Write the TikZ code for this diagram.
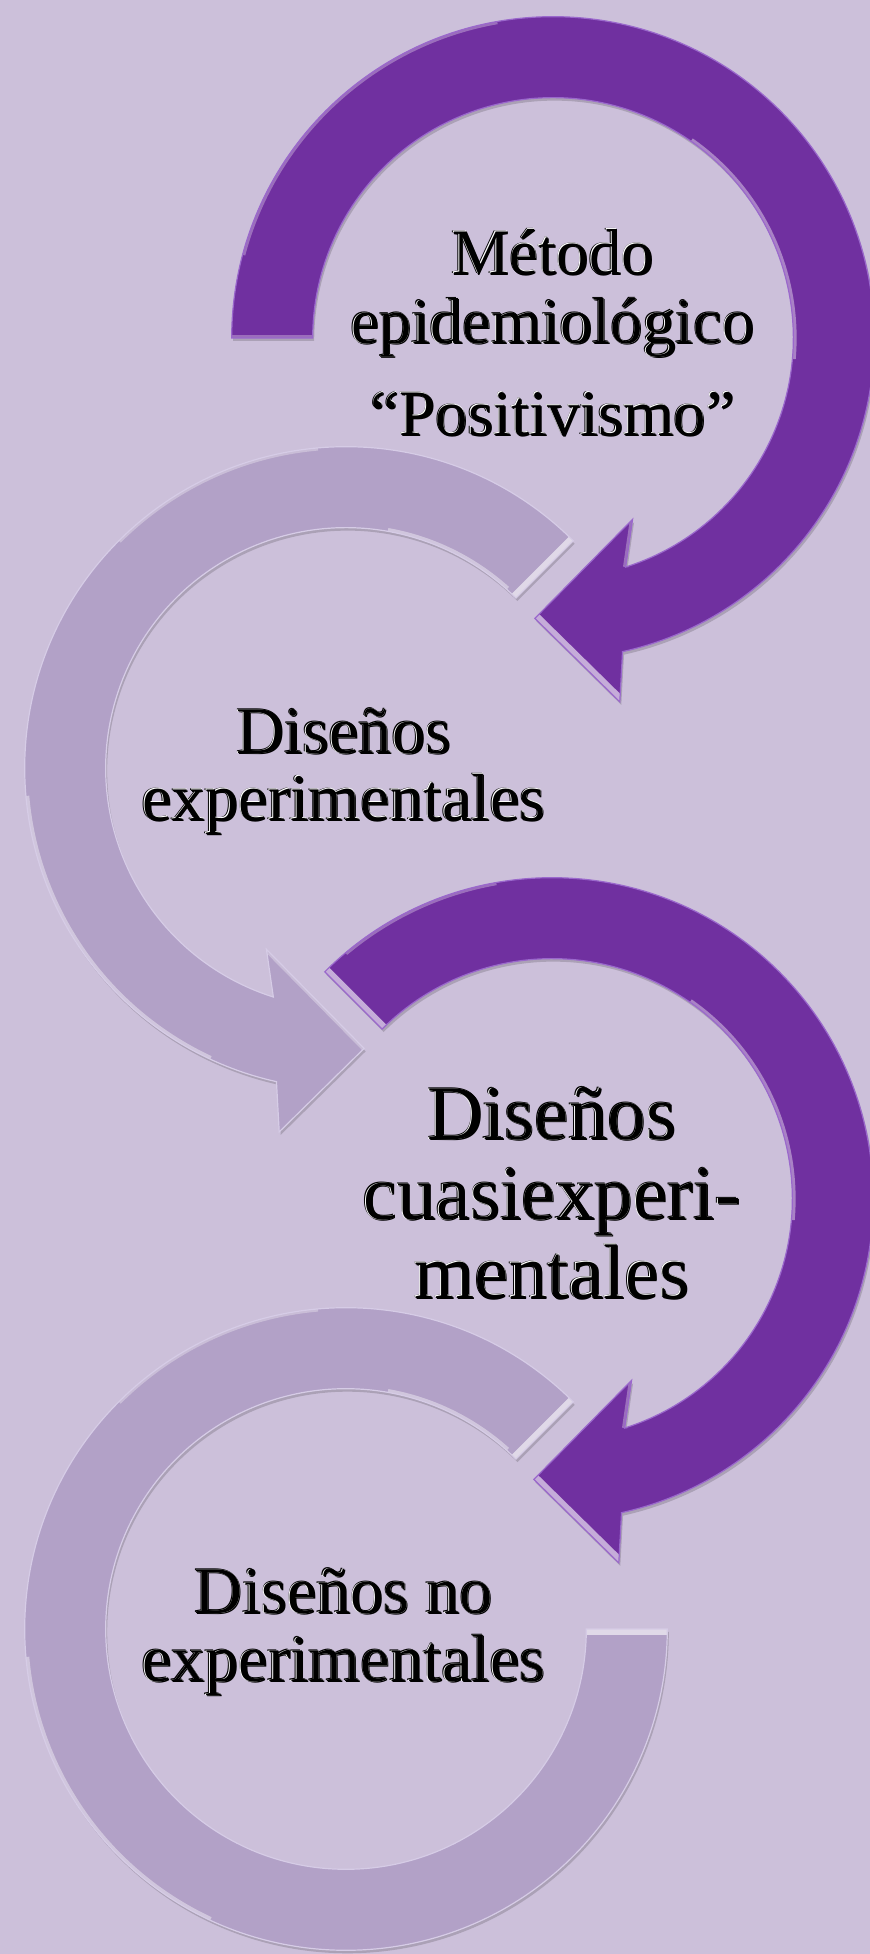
\documentclass[tikz,border=0pt]{standalone}
\usepackage{fontspec}
\setmainfont{Liberation Serif}
\definecolor{bgc}{HTML}{CCC0DA}
\definecolor{dpurple}{HTML}{7030A0}
\definecolor{lpurple}{HTML}{B2A1C7}
\definecolor{dedge}{HTML}{9A68CC}
\definecolor{ledge}{HTML}{D6CCE6}
\newcommand{\Rout}{321.3}
\newcommand{\Rin}{240.3}
\newcommand{\cwpath}[1]{(#1:\Rout) arc[start angle=#1,end angle=-77.5,radius=\Rout] -- (-79.6:370) -- (-93.7:281) -- (-66.3:198) -- (-72.4:\Rin) arc[start angle=-72.4,end angle=#1,radius=\Rin] -- cycle}
\newcommand{\ccwpath}[1]{(#1:\Rout) arc[start angle=#1,end angle=257.5,radius=\Rout] -- (259.6:370) -- (273.7:281) -- (246.3:198) -- (252.4:\Rin) arc[start angle=252.4,end angle=#1,radius=\Rin] -- cycle}
\newcommand{\ringpath}{(45:\Rout) arc[start angle=45,end angle=360,radius=\Rout] -- (0:\Rin) arc[start angle=360,end angle=45,radius=\Rin] -- cycle}
\newcommand{\etxt}[5]{%
  \node[tx,font=\fontsize{#4}{#4}\selectfont,text=black] (#1s) at ({#2+0.9},{#3-0.9}) {#5};
  \node[tx,font=\fontsize{#4}{#4}\selectfont,text=black] (#1o) at ({#2-1.4},{#3+1.1}) {#5};
  \node[tx,font=\fontsize{#4}{#4}\selectfont,text=white] (#1w) at ({#2-0.7},{#3+0.55}) {#5};
  \node[tx,font=\fontsize{#4}{#4}\selectfont,text=black] (#1) at (#2,#3) {#5};}
\tikzset{
  tx/.style={anchor=base,inner sep=0pt,outer sep=0pt},
  shadowc/.style={fill=black,opacity=0.16},
  bevel/.style={white,opacity=0.6,line width=9},
  glow/.style={white,opacity=0.4,line width=5},
  glowsoft/.style={white,opacity=0.3,line width=4},
  dline/.style={draw=dedge,line width=0.9},
  lline/.style={draw=ledge,line width=0.9}
}
\begin{document}
\begin{tikzpicture}[x=0.75pt,y=0.75pt]
\useasboundingbox (0,0) rectangle (870,1954);
\clip (0,0) rectangle (870,1954);
\fill[bgc] (0,0) rectangle (870,1954);

% ---- shape 1 (dark, clockwise)
\begin{scope}[shift={(553,1616)}]
  \fill[shadowc,shift={(1.5,-3)}] \cwpath{180};
  \fill[dpurple] \cwpath{180};
  \begin{scope}
    \clip \cwpath{180};
    \draw[bevel] (-93.7:281) -- (-79.6:370);
    \draw[glowsoft] (180:\Rout) -- (180:\Rin);
    \draw[glow] (55:\Rin) arc[start angle=55,end angle=-5,radius=\Rin];
    \draw[glowsoft] (165:\Rout) arc[start angle=165,end angle=100,radius=\Rout];
    \draw[glowsoft] (-72.4:\Rin) -- (-66.3:198);
  \end{scope}
  \draw[dline] \cwpath{180};
\end{scope}

% ---- shape 2 (light, counter-clockwise)
\begin{scope}[shift={(346,1186)}]
  \fill[shadowc,shift={(1.5,-3)}] \ccwpath{45};
  \fill[lpurple] \ccwpath{45};
  \begin{scope}
    \clip \ccwpath{45};
    \draw[bevel] (45:\Rout) -- (45:\Rin);
    \draw[glow] (48:\Rin) arc[start angle=48,end angle=80,radius=\Rin];
    \draw[glow] (185:\Rout) arc[start angle=185,end angle=245,radius=\Rout];
    \draw[glowsoft] (95:\Rout) arc[start angle=95,end angle=135,radius=\Rout];
    \draw[glowsoft] (246.3:198) -- (273.7:281);
  \end{scope}
  \draw[lline] \ccwpath{45};
\end{scope}

% ---- shape 3 (dark, clockwise)
\begin{scope}[shift={(552,755)}]
  \fill[shadowc,shift={(1.5,-3)}] \cwpath{135};
  \fill[dpurple] \cwpath{135};
  \begin{scope}
    \clip \cwpath{135};
    \draw[bevel] (-93.7:281) -- (-79.6:370);
    \draw[bevel] (135:\Rout) -- (135:\Rin);
    \draw[glow] (55:\Rin) arc[start angle=55,end angle=-5,radius=\Rin];
    \draw[glowsoft] (130:\Rout) arc[start angle=130,end angle=100,radius=\Rout];
    \draw[glowsoft] (-72.4:\Rin) -- (-66.3:198);
  \end{scope}
  \draw[dline] \cwpath{135};
\end{scope}

% ---- shape 4 (light ring)
\begin{scope}[shift={(346,325)}]
  \fill[shadowc,shift={(1.5,-3)}] \ringpath;
  \fill[lpurple] \ringpath;
  \begin{scope}
    \clip \ringpath;
    \draw[bevel] (45:\Rout) -- (45:\Rin);
    \draw[bevel] (0:\Rout) -- (0:\Rin);
    \draw[glow] (48:\Rin) arc[start angle=48,end angle=80,radius=\Rin];
    \draw[glow] (185:\Rout) arc[start angle=185,end angle=245,radius=\Rout];
    \draw[glowsoft] (95:\Rout) arc[start angle=95,end angle=135,radius=\Rout];
  \end{scope}
  \draw[lline] \ringpath;
\end{scope}

% ---- texts
\etxt{t1a}{553}{1679.5}{48.7}{Método}
\etxt{t1b}{553}{1610.3}{48.7}{epidemiológico}
\etxt{t1c}{553}{1518.7}{48.7}{“Positivismo”}
\etxt{t2a}{344}{1200.3}{50}{Diseños}
\etxt{t2b}{344}{1133.7}{50}{experimentales}
\etxt{t3a}{552}{814}{58}{Diseños}
\etxt{t3b}{552}{734}{58}{cuasiexperi-}
\etxt{t3c}{552}{655.5}{58}{mentales}
\etxt{t4a}{344}{340}{50}{Diseños no}
\etxt{t4b}{344}{272.2}{50}{experimentales}
\end{tikzpicture}
\end{document}
